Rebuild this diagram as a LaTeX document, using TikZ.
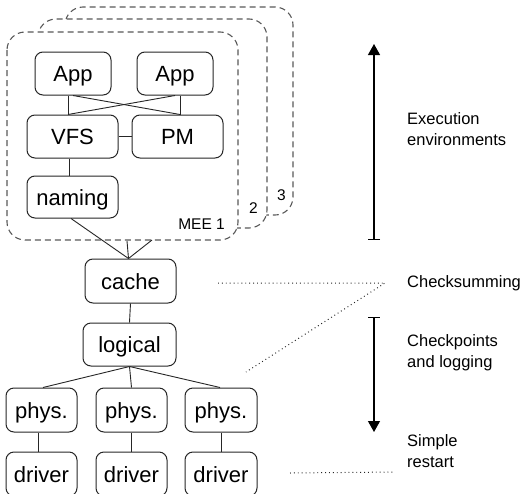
\documentclass[tikz,border=0pt]{standalone}
\usepackage{fontspec}
\setmainfont{Liberation Sans}
\usetikzlibrary{arrows.meta}
\begin{document}
\begin{tikzpicture}[x=1pt,y=-1pt,
  box/.style={draw=black!85, line width=1pt, rounded corners=8pt, minimum height=43pt,
    inner sep=0pt, text height=16pt, text depth=0pt, font=\fontsize{22}{26}\selectfont},
  mee/.style={draw=black!65, fill=white, line width=1.1pt, dash pattern=on 6pt off 4pt, rounded corners=18pt},
  link/.style={draw=black!85, line width=0.9pt},
  dots/.style={draw=black!85, line width=1pt, dash pattern=on 0.9pt off 3pt},
  lab/.style={font=\fontsize{16.5}{20.5}\selectfont, align=left, inner sep=0pt},
  meelab/.style={font=\fontsize{15.5}{18}\selectfont, inner sep=0pt},
  span/.style={line width=1.2pt, {Bar[width=12pt]}-{Triangle[length=11pt,width=12pt]}}]
\useasboundingbox (0,0) rectangle (525,493);
% execution environments
\draw[mee] (65,7) rectangle (293,215);
\draw[mee] (38,19) rectangle (267,228);
\draw[mee] (7,32) rectangle (238,240);
\node[meelab, anchor=base east] (l3) at (286,200) {3};
\node[meelab, anchor=base east] (l2) at (258,213) {2};
\node[meelab, anchor=base east] (l1) at (225,229) {MEE 1};
% nodes
\node[box, minimum width=76pt] (a1) at (73,73.5) {App};
\node[box, minimum width=76pt] (a2) at (175,73.5) {App};
\node[box, minimum width=91pt] (vfs) at (72.5,136.5) {VFS};
\node[box, minimum width=91pt] (pm) at (177.5,136.5) {PM};
\node[box, minimum width=91pt, minimum height=42pt] (nam) at (72.5,197) {naming};
\node[box, minimum width=91pt, minimum height=44pt] (cache) at (130.5,281) {cache};
\node[box, minimum width=93pt] (log) at (129.5,344.5) {logical};
\node[box, minimum width=71pt, minimum height=44pt] (p1) at (41.5,410) {phys.};
\node[box, minimum width=71pt, minimum height=44pt] (p2) at (131.5,410) {phys.};
\node[box, minimum width=72pt, minimum height=44pt] (p3) at (221,410) {phys.};
\node[box, minimum width=71pt, minimum height=44pt] (d1) at (41.5,474) {driver};
\node[box, minimum width=71pt, minimum height=44pt] (d2) at (131.5,474) {driver};
\node[box, minimum width=72pt, minimum height=44pt] (d3) at (221,474) {driver};
% connectors
\draw[link] ([xshift=-5pt]a1.south) -- ([xshift=-4.5pt]vfs.north);
\draw[link] (a1.south) -- ([xshift=2.5pt]pm.north);
\draw[link] (a2.south) -- ([xshift=-4.5pt]vfs.north);
\draw[link] ([xshift=5pt]a2.south) -- ([xshift=2.5pt]pm.north);
\draw[link] (vfs.east) -- (pm.west);
\draw[link] ([xshift=-3pt]vfs.south) -- ([xshift=-3pt]nam.north);
\coordinate (m2) at (127,241);
\coordinate (m3) at (152,240);
\draw[link] ([xshift=-1.5pt]nam.south) -- ([xshift=-2pt]cache.north);
\draw[link] (m2) -- ([xshift=-2pt]cache.north);
\draw[link] (m3) -- ([xshift=-2pt]cache.north);
\draw[link] (cache.south) -- (log.south |- log.north);
\draw[link] (log.south) -- ([xshift=1.5pt]p1.north);
\draw[link] (log.south) -- (p2.north);
\draw[link] (log.south) -- ([xshift=-1pt]p3.north);
\draw[link] ([xshift=-3.5pt]p1.south) -- ([xshift=-3.5pt]d1.north);
\draw[link] (p2.south) -- (d2.north);
\draw[link] (p3.south) -- (d3.north);
% right side
\coordinate (eb) at (374,240);
\coordinate (et) at (374,44);
\draw[span] (eb) -- (et);
\coordinate (cb) at (374,317);
\coordinate (ct) at (374,432);
\draw[span] (cb) -- (ct);
\coordinate (c1) at (218,283);
\coordinate (c2) at (385,283);
\coordinate (c3) at (246,372);
\draw[dots] (c1) -- (c2) -- (c3);
\coordinate (s1) at (290,473);
\coordinate (s2) at (395,472);
\draw[dots] (s1) -- (s2);
\node[lab, anchor=base west] (exec) at (407,145) {Execution\\environments};
\node[lab, anchor=base west] (chk) at (407,287) {Checksumming};
\node[lab, anchor=base west] (cpl) at (407,367) {Checkpoints\\and logging};
\node[lab, anchor=base west] (sr) at (407,467) {Simple\\restart};
\end{tikzpicture}
\end{document}
